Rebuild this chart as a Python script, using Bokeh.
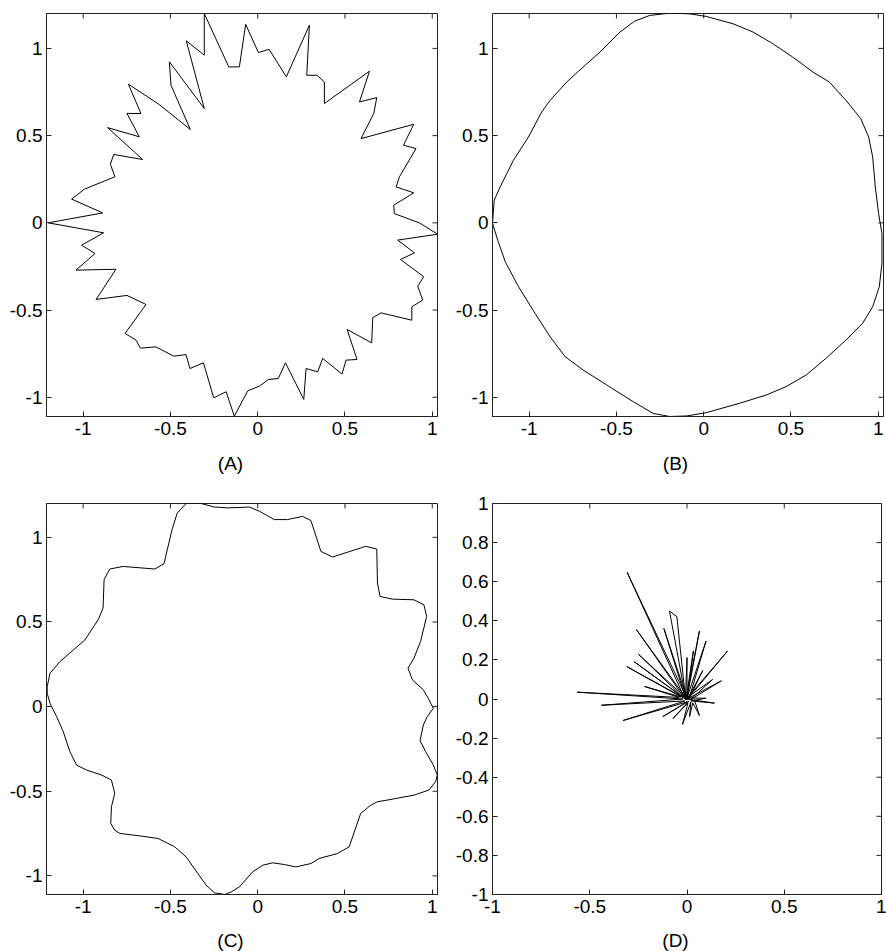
import math
from bokeh.plotting import figure
from bokeh.models import Range1d, FixedTicker, LinearAxis, CustomJSTickFormatter
from bokeh.core.properties import value
from bokeh.layouts import column, row
from bokeh.embed import file_html
from bokeh.resources import INLINE

# ---------------- data ----------------
a_x = [-1.200, -0.888, -1.066, -0.993, -0.818, -0.844, -0.825, -0.659, -0.860, -0.678,
       -0.749, -0.669, -0.741, -0.564, -0.386, -0.497, -0.506, -0.306, -0.409, -0.306,
       -0.306, -0.166, -0.105, -0.069, 0.004, 0.065, 0.164, 0.296, 0.281, 0.340,
       0.382, 0.382, 0.640, 0.583, 0.682, 0.665, 0.592, 0.894, 0.835, 0.907,
       0.812, 0.793, 0.894, 0.779, 0.783, 0.926, 1.031, 0.802, 0.898, 0.818,
       0.951, 0.917, 0.945, 0.883, 0.883, 0.707, 0.659, 0.653, 0.512, 0.569,
       0.506, 0.483, 0.372, 0.344, 0.277, 0.264, 0.159, 0.118, 0.061, 0.010,
       -0.057, -0.134, -0.181, -0.252, -0.311, -0.388, -0.411, -0.481, -0.583, -0.672,
       -0.697, -0.760, -0.640, -0.749, -0.926, -0.812, -1.041, -0.932, -1.009, -0.883]
a_y = [0.000, 0.057, 0.136, 0.193, 0.264, 0.336, 0.392, 0.363, 0.546, 0.493,
       0.627, 0.627, 0.795, 0.678, 0.535, 0.789, 0.923, 0.655, 1.043, 0.961,
       1.200, 0.894, 0.894, 1.138, 0.976, 0.995, 0.837, 1.133, 0.846, 0.846,
       0.808, 0.684, 0.869, 0.693, 0.718, 0.627, 0.483, 0.565, 0.445, 0.426,
       0.264, 0.206, 0.172, 0.101, 0.053, 0.000, -0.065, -0.099, -0.172, -0.210,
       -0.309, -0.363, -0.443, -0.481, -0.558, -0.516, -0.543, -0.688, -0.611, -0.783,
       -0.787, -0.867, -0.777, -0.854, -0.835, -1.012, -0.802, -0.892, -0.898, -0.936,
       -0.963, -1.108, -0.968, -1.003, -0.802, -0.835, -0.755, -0.764, -0.711, -0.718,
       -0.672, -0.634, -0.468, -0.416, -0.439, -0.266, -0.271, -0.176, -0.128, -0.057]

b_x = [-1.210, -1.200, -1.166, -1.090, -1.004, -0.928, -0.880, -0.785, -0.670, -0.594,
       -0.480, -0.394, -0.309, -0.194, -0.080, 0.015, 0.168, 0.282, 0.396, 0.510,
       0.625, 0.720, 0.815, 0.900, 0.945, 0.968, 0.983, 1.002, 1.021, 1.021,
       1.006, 0.968, 0.910, 0.815, 0.700, 0.587, 0.472, 0.358, 0.206, 0.015,
       -0.099, -0.194, -0.290, -0.404, -0.556, -0.690, -0.794, -0.880, -0.966, -1.061,
       -1.137, -1.180, -1.204]
b_y = [0.000, 0.130, 0.206, 0.359, 0.492, 0.636, 0.702, 0.807, 0.912, 0.979,
       1.094, 1.157, 1.189, 1.202, 1.198, 1.183, 1.141, 1.094, 1.027, 0.950,
       0.865, 0.807, 0.702, 0.597, 0.492, 0.378, 0.206, 0.053, -0.061, -0.233,
       -0.366, -0.481, -0.576, -0.672, -0.777, -0.872, -0.939, -0.987, -1.034, -1.088,
       -1.107, -1.110, -1.092, -1.025, -0.929, -0.844, -0.767, -0.653, -0.519, -0.366,
       -0.223, -0.099, -0.023]

c_x = [-1.206, -1.190, -1.133, -0.990, -0.914, -0.886, -0.880, -0.848, -0.771, -0.590,
       -0.537, -0.491, -0.461, -0.410, -0.324, -0.248, -0.171, -0.048, 0.010, 0.095,
       0.171, 0.257, 0.305, 0.362, 0.429, 0.619, 0.682, 0.686, 0.701, 0.771,
       0.895, 0.952, 0.968, 0.933, 0.895, 0.861, 0.886, 0.949, 0.977, 1.006,
       0.971, 0.949, 0.930, 0.962, 1.006, 1.029, 1.019, 0.981, 0.895, 0.743,
       0.686, 0.648, 0.590, 0.524, 0.457, 0.352, 0.305, 0.219, 0.152, 0.086,
       0.029, -0.029, -0.105, -0.152, -0.190, -0.248, -0.295, -0.343, -0.410, -0.476,
       -0.571, -0.667, -0.790, -0.819, -0.842, -0.838, -0.819, -0.838, -0.895, -0.981,
       -1.038, -1.076, -1.114, -1.152, -1.190, -1.206]
c_y = [0.118, 0.197, 0.266, 0.394, 0.513, 0.582, 0.750, 0.813, 0.828, 0.813,
       0.844, 1.045, 1.144, 1.200, 1.200, 1.179, 1.174, 1.179, 1.154, 1.105,
       1.105, 1.124, 1.099, 0.917, 0.884, 0.947, 0.931, 0.730, 0.651, 0.635,
       0.631, 0.602, 0.533, 0.385, 0.286, 0.227, 0.158, 0.099, 0.049, -0.010,
       -0.059, -0.108, -0.201, -0.266, -0.345, -0.404, -0.444, -0.493, -0.523, -0.552,
       -0.562, -0.582, -0.631, -0.828, -0.868, -0.897, -0.927, -0.947, -0.933, -0.923,
       -0.937, -0.976, -1.065, -1.095, -1.110, -1.100, -1.055, -0.986, -0.888, -0.828,
       -0.779, -0.765, -0.749, -0.730, -0.690, -0.592, -0.513, -0.434, -0.404, -0.375,
       -0.345, -0.266, -0.148, -0.059, 0.020, 0.079]

d_x = [0.000, 0.141, 0.020, 0.098, 0.010, 0.177, 0.015, 0.132, 0.005, 0.209,
       0.000, 0.081, 0.010, 0.098, 0.000, 0.064, -0.005, 0.033, 0.000, 0.000,
       -0.008, -0.052, -0.090, -0.005, -0.119, 0.000, -0.308, -0.010, -0.260, -0.005,
       -0.250, -0.020, -0.272, -0.010, -0.310, -0.030, -0.218, -0.040, -0.565, -0.020,
       -0.440, -0.010, -0.329, 0.000, -0.124, 0.010, -0.072, 0.005, -0.023, 0.020,
       0.013, 0.030, 0.064, 0.040]
d_y = [0.000, -0.021, -0.010, 0.004, 0.005, 0.093, -0.005, 0.100, 0.010, 0.246,
       -0.005, 0.146, 0.000, 0.297, 0.005, 0.348, -0.002, 0.246, 0.000, 0.212,
       0.004, 0.421, 0.450, -0.005, 0.361, 0.002, 0.648, 0.000, 0.355, 0.005,
       0.229, 0.008, 0.191, 0.002, 0.166, 0.010, 0.064, 0.008, 0.035, 0.000,
       -0.032, -0.010, -0.110, -0.015, -0.090, -0.010, -0.100, -0.020, -0.130, -0.015,
       -0.090, -0.020, -0.085, -0.010]

ticks_half = [-1.0, -0.5, 0.0, 0.5, 1.0]
ticks_fifth = [-1.0, -0.8, -0.6, -0.4, -0.2, 0.0, 0.2, 0.4, 0.6, 0.8, 1.0]
range_abc_x = (-1.21, 1.03)
range_abc_y = (-1.11, 1.20)
range_d = (-1.0, 1.0)
titles = ["(A)", "(B)", "(C)", "(D)"]

FONT = "Liberation Sans"
INK = "#222222"
FS = "19px"


def axis(ticks, standoff):
    ax = LinearAxis(ticker=FixedTicker(ticks=ticks),
                    formatter=CustomJSTickFormatter(code="return String(tick)"))
    ax.major_tick_in = 5
    ax.major_tick_out = 0
    ax.minor_tick_line_color = None
    ax.axis_line_color = INK
    ax.major_tick_line_color = INK
    ax.major_label_text_font = FONT
    ax.major_label_text_color = "black"
    ax.major_label_text_font_size = FS
    ax.major_label_standoff = standoff
    return ax


def panel(xr, yr, xt, yt, width, height, bl, br, bt, bb):
    p = figure(width=width, height=height, x_range=Range1d(*xr), y_range=Range1d(*yr),
               x_axis_type=None, y_axis_type=None, output_backend="svg",
               toolbar_location=None, min_border_left=bl, min_border_right=br,
               min_border_top=bt, min_border_bottom=bb)
    p.outline_line_color = INK
    p.background_fill_color = "white"
    p.border_fill_color = "white"
    p.add_layout(axis(xt, 5), "below")
    p.add_layout(axis(yt, 4), "left")
    # inward ticks on the top and right edges of the box
    p.ray(x=xt, y=[yr[1]] * len(xt), length=5, length_units="screen",
          angle=-math.pi / 2, line_color=INK, line_width=1)
    p.ray(x=[xr[1]] * len(yt), y=yt, length=5, length_units="screen",
          angle=math.pi, line_color=INK, line_width=1)
    return p


def caption(text, width, height, cx, cy):
    # a thin strip figure, in pixel units, that carries the panel letter
    p = figure(width=width, height=height, x_range=Range1d(0, width),
               y_range=Range1d(0, height), x_axis_type=None, y_axis_type=None,
               output_backend="svg", toolbar_location=None, min_border_left=0,
               min_border_right=0, min_border_top=0, min_border_bottom=0)
    p.outline_line_color = None
    p.text(x=[cx], y=[cy], text=[text], text_align="center", text_baseline="middle",
           text_font=value(FONT), text_font_size=FS, text_color="black")
    return p


W_LEFT, W_RIGHT = 449, 437
H_TOP, H_CAP1, H_BOT, H_CAP2 = 446, 44, 434, 27

pA = panel(range_abc_x, range_abc_y, ticks_half, ticks_half, W_LEFT, H_TOP, 46, 12, 13, 30)
pA.line(a_x + a_x[:1], a_y + a_y[:1], line_color="black", line_width=1)

pB = panel(range_abc_x, range_abc_y, ticks_half, ticks_half, W_RIGHT, H_TOP, 43, 3, 13, 30)
pB.line(b_x + b_x[:1], b_y + b_y[:1], line_color="black", line_width=1)

pC = panel(range_abc_x, range_abc_y, ticks_half, ticks_half, W_LEFT, H_BOT, 46, 12, 13, 30)
pC.line(c_x + c_x[:1], c_y + c_y[:1], line_color="black", line_width=1)

pD = panel(range_d, range_d, ticks_half, ticks_fifth, W_RIGHT, H_BOT, 43, 5, 13, 30)
pD.line(d_x, d_y, line_color="black", line_width=1)

capA = caption(titles[0], W_LEFT, H_CAP1, 230, 27)
capB = caption(titles[1], W_RIGHT, H_CAP1, 226, 27)
capC = caption(titles[2], W_LEFT, H_CAP2, 230, 11)
capD = caption(titles[3], W_RIGHT, H_CAP2, 226, 11)

layout = column(row(pA, pB), row(capA, capB), row(pC, pD), row(capC, capD))

with open("out.html", "w") as f:
    f.write(file_html(layout, INLINE))
